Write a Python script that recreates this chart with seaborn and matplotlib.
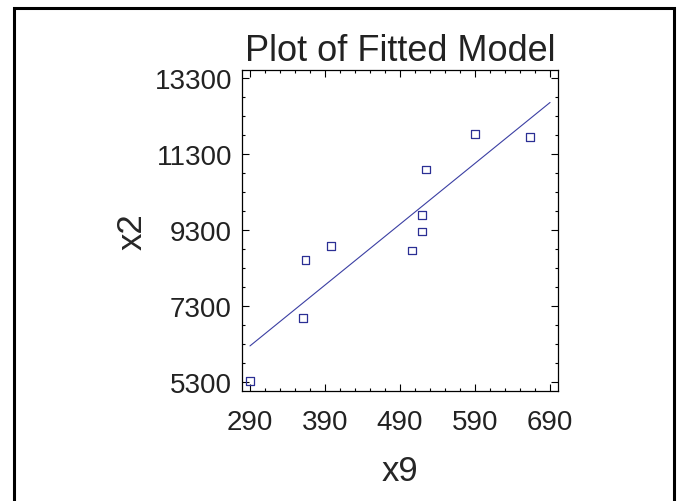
import matplotlib
matplotlib.use("Agg")
import numpy as np
import pandas as pd
import seaborn as sns
import matplotlib.pyplot as plt
from matplotlib.ticker import MultipleLocator
from matplotlib.patches import Rectangle

# ====
# data

x9 = [290, 361, 364, 398, 506, 519, 519, 525, 590, 663]
x2 = [5340, 7000, 8520, 8880, 8770, 9270, 9700, 10900, 11830, 11750]
x_ticks = [290, 390, 490, 590, 690]
y_ticks = [5300, 7300, 9300, 11300, 13300]

df = pd.DataFrame({"x9": x9, "x2": x2})

# ====
# plot

sns.set_style("ticks")
plt.rcParams["font.family"] = ["Liberation Sans Narrow", "Liberation Sans", "DejaVu Sans"]
plt.rcParams["text.color"] = "#222222"

fig = plt.figure(figsize=(6.77, 5.02), dpi=100)
W, H = 677, 502
ax = fig.add_axes([241.7 / W, 1 - 391.7 / H, (558.3 - 241.7) / W, (391.7 - 70.7) / H])

sns.scatterplot(data=df, x="x9", y="x2", marker="s", s=32, facecolors="none",
                edgecolor="#2b2f94", linewidth=0.9, ax=ax)

# fitted line spans the tick range
ax.set_xlim(x_ticks[0], x_ticks[-1])
sns.regplot(data=df, x="x9", y="x2", scatter=False, ci=None, truncate=False, ax=ax,
            line_kws=dict(color="#3b3fa3", lw=0.8))

ax.set_xlim(279, 701)
ax.set_ylim(5079, 13526)
ax.set_xticks(x_ticks)
ax.set_yticks(y_ticks)
ax.xaxis.set_minor_locator(MultipleLocator(20, offset=10))
ax.yaxis.set_minor_locator(MultipleLocator(500, offset=300))
ax.tick_params(which="both", direction="in", top=True, right=True, color="black", width=0.8)
ax.tick_params(which="major", length=5)
ax.tick_params(which="minor", length=2.5)
ax.tick_params(axis="x", labelsize=20, pad=13, labelcolor="#222222")
ax.tick_params(axis="y", labelsize=20, pad=7, labelcolor="#222222")
for sp in ax.spines.values():
    sp.set_visible(True)
    sp.set_color("black")
    sp.set_linewidth(0.9)

ax.set_title("Plot of Fitted Model", fontsize=26, pad=7)
ax.set_xlabel("x9", fontsize=25, labelpad=14)
ax.set_ylabel("x2", fontsize=25, labelpad=4)

# outer frame
fig.add_artist(Rectangle((13.5 / W, -0.05), (674 - 13.5) / W, 1.05 - 8.5 / H,
                         transform=fig.transFigure, fill=False, edgecolor="black",
                         lw=2.2, clip_on=False))

fig.savefig("out.png", dpi=100)
